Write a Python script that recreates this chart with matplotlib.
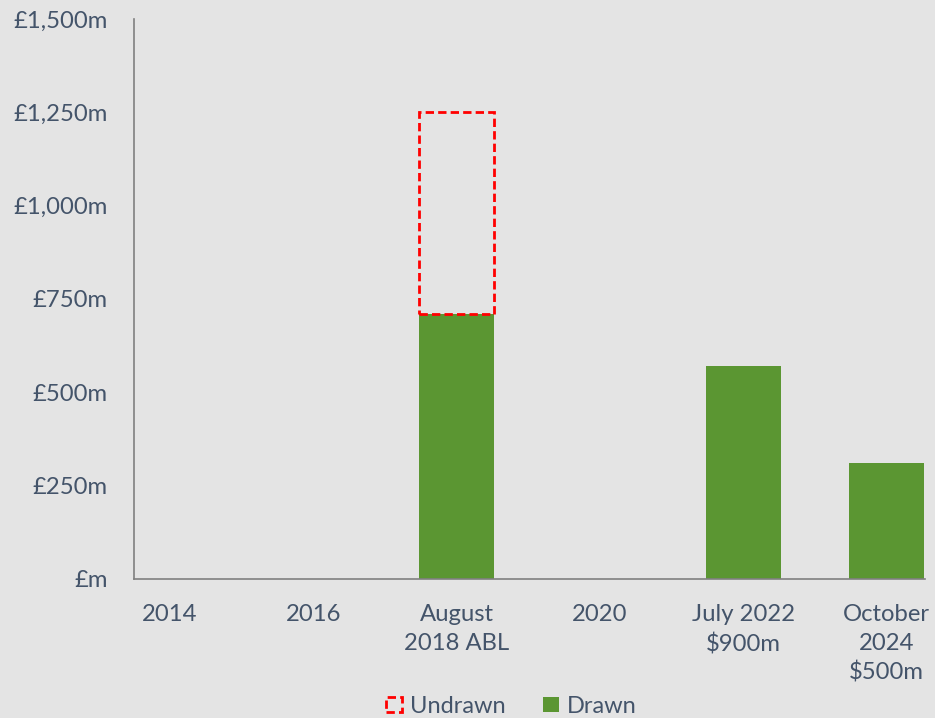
import matplotlib.pyplot as plt

# data (GBP m)
categories = ['2014', '2016', 'August\n2018 ABL', '2020', 'July 2022\n$900m', 'October\n2024\n$500m']
drawn = [0, 0, 710, 0, 570, 310]
undrawn = [0, 0, 540, 0, 0, 0]
yticks = [0, 250, 500, 750, 1000, 1250, 1500]
ylabels = ['£m', '£250m', '£500m', '£750m', '£1,000m', '£1,250m', '£1,500m']

bg = '#e4e4e4'
txt = '#44546a'
green = '#5b9632'

plt.rcParams['font.family'] = ['Lato', 'DejaVu Sans']

fig = plt.figure(figsize=(9.35, 7.18), dpi=100, facecolor=bg)
ax = fig.add_axes([0.1433, 0.1936, 0.8457, 0.78])
ax.set_facecolor(bg)

x = list(range(len(categories)))
w = 0.52
ax.bar(x, drawn, width=w, color=green, label='Drawn', zorder=2)
# only draw the outline where there is an undrawn amount
ux = [i for i in x if undrawn[i] > 0]
ax.bar(ux, [undrawn[i] for i in ux], width=w, bottom=[drawn[i] for i in ux],
       facecolor='none', edgecolor='#ff0000', linestyle=(0, (3, 1.5)), linewidth=2,
       label='Undrawn', zorder=3)

ax.set_xlim(-0.25, 5.265)
ax.set_ylim(0, 1500)
ax.set_yticks(yticks)
ax.set_yticklabels(ylabels)
ax.set_xticks(x)
ax.set_xticklabels(categories, linespacing=1.45)

ax.tick_params(axis='both', length=0, labelsize=17.2, colors=txt)
ax.tick_params(axis='y', pad=19)
ax.tick_params(axis='x', pad=18)

for s in ['top', 'right']:
    ax.spines[s].set_visible(False)
for s in ['left', 'bottom']:
    ax.spines[s].set_color('#808080')
    ax.spines[s].set_linewidth(1.2)

h, l = ax.get_legend_handles_labels()
leg = fig.legend(h[::-1], l[::-1], loc='lower center', bbox_to_anchor=(0.547, -0.028),
                 ncol=2, frameon=False, fontsize=17, handlelength=0.65, handleheight=0.65,
                 handletextpad=0.35, columnspacing=1.6)
for t in leg.get_texts():
    t.set_color(txt)

fig.savefig('out.png', dpi=100, facecolor=bg)
